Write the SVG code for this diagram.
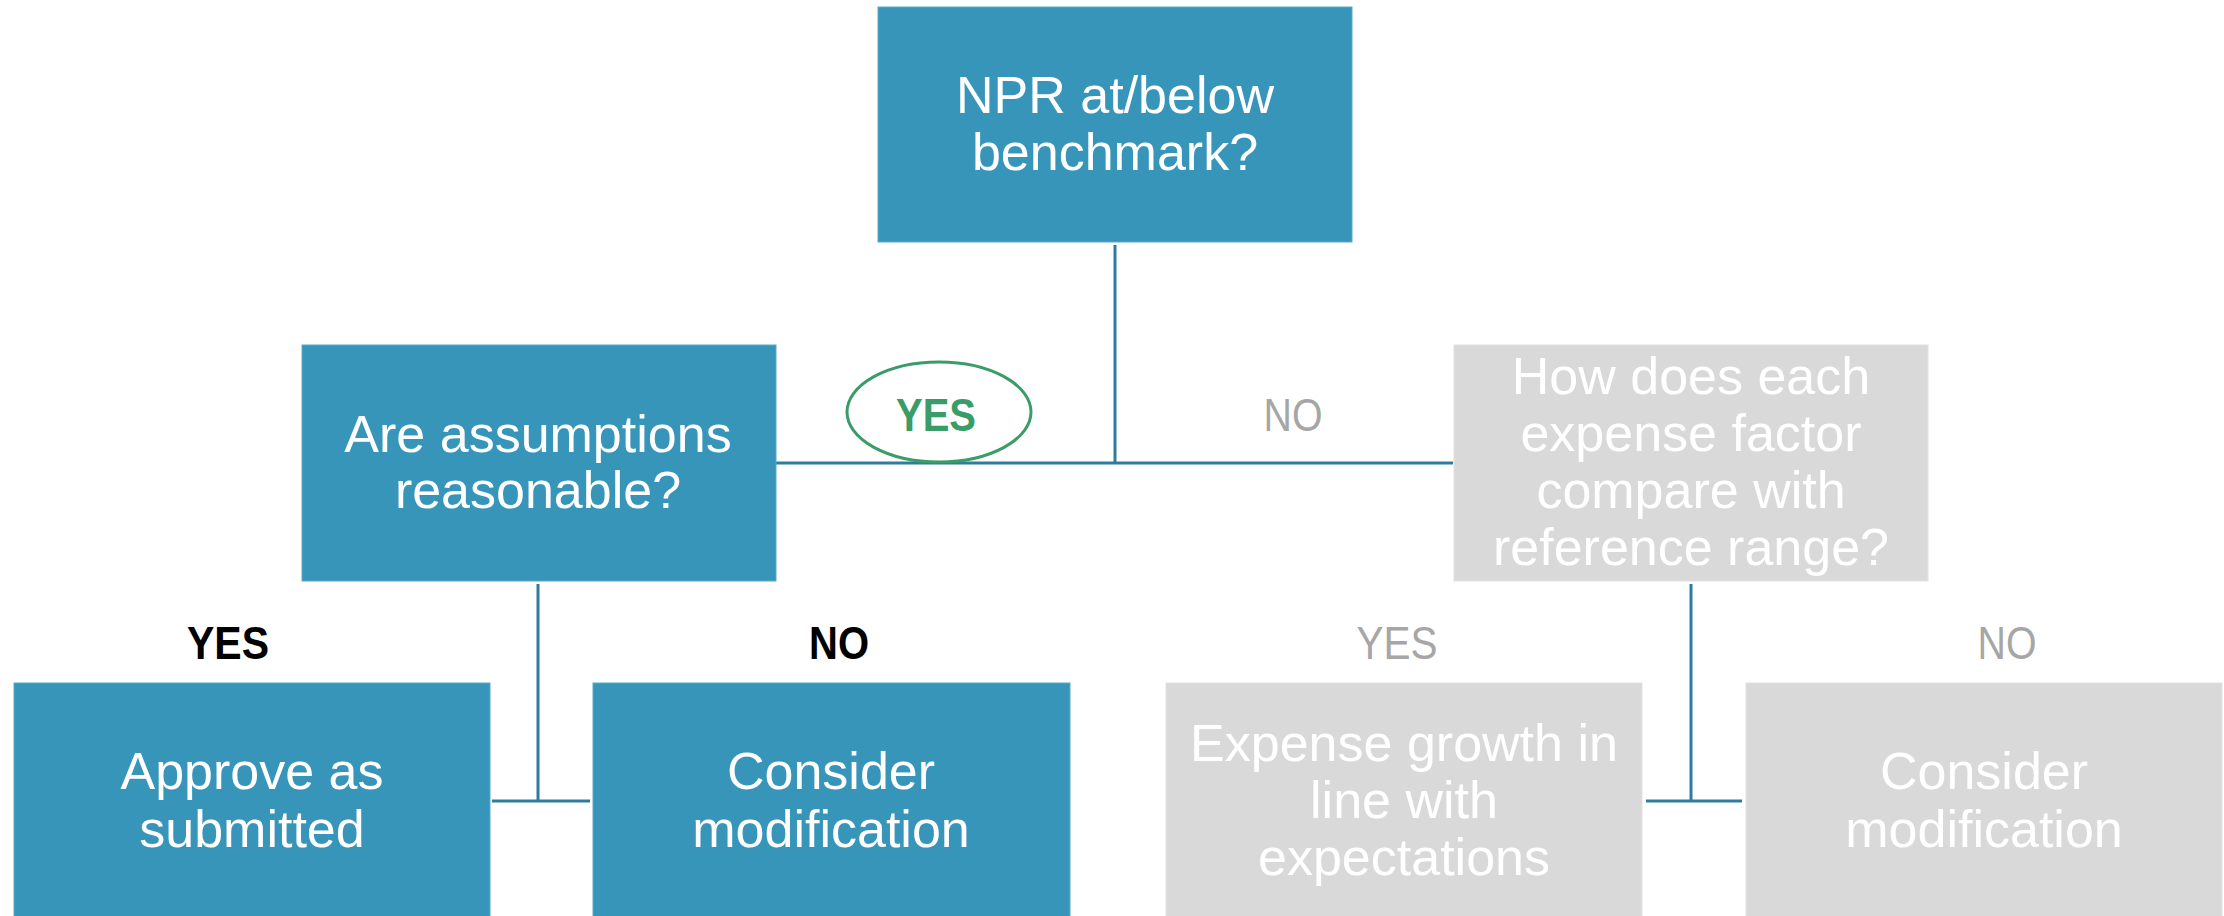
<svg xmlns="http://www.w3.org/2000/svg" width="2224" height="916" viewBox="0 0 2224 916">
<style>
.blue{fill:#3795BA;stroke:#5AA9C8;stroke-width:1}
.grey{fill:#D9D9D9;stroke:#E2E2E2;stroke-width:1}
.t{font-family:"Liberation Sans",Arial,sans-serif;font-size:52px;fill:#FFFFFF;text-anchor:middle}
.lbl{font-family:"Liberation Sans",Arial,sans-serif;font-size:47px;text-anchor:middle}
.conn line{stroke:#2E7C9E;stroke-width:3;fill:none}
</style>
<rect width="2224" height="916" fill="#FFFFFF"/>
<g id="connectors" class="conn">
<line x1="1115" y1="245" x2="1115" y2="464"/>
<line x1="776" y1="463" x2="1453" y2="463"/>
<line x1="538" y1="584" x2="538" y2="801"/>
<line x1="492" y1="801" x2="590" y2="801"/>
<line x1="1691" y1="584" x2="1691" y2="801"/>
<line x1="1646" y1="801" x2="1742" y2="801"/>
</g>
<g id="n-top">
<rect class="blue" x="878" y="7" width="474" height="235"/>
<text class="t" x="1115" y="113">NPR at/below</text>
<text class="t" x="1115" y="170">benchmark?</text>
</g>
<g id="n-assumptions">
<rect class="blue" x="302" y="345" width="474" height="236"/>
<text class="t" x="538" y="452">Are assumptions</text>
<text class="t" x="538" y="508">reasonable?</text>
</g>
<g id="n-expense">
<rect class="grey" x="1454" y="345" width="474" height="236"/>
<text class="t" x="1691" y="394">How does each</text>
<text class="t" x="1691" y="451">expense factor</text>
<text class="t" x="1691" y="508">compare with</text>
<text class="t" x="1691" y="565">reference range?</text>
</g>
<g id="lbl-yes-top">
<ellipse cx="939" cy="412" rx="92" ry="50" fill="none" stroke="#3A9C68" stroke-width="3"/>
<text class="lbl" x="936" y="431" fill="#3A9C68" font-weight="bold" textLength="80" lengthAdjust="spacingAndGlyphs">YES</text>
</g>
<g id="lbl-no-top">
<text class="lbl" x="1293" y="431" fill="#A6A6A6" textLength="59" lengthAdjust="spacingAndGlyphs">NO</text>
</g>
<g id="lbl-yes-left">
<text class="lbl" x="228" y="659" fill="#000000" font-weight="bold" textLength="82" lengthAdjust="spacingAndGlyphs">YES</text>
</g>
<g id="lbl-no-left">
<text class="lbl" x="839" y="659" fill="#000000" font-weight="bold" textLength="60" lengthAdjust="spacingAndGlyphs">NO</text>
</g>
<g id="lbl-yes-right">
<text class="lbl" x="1397" y="659" fill="#A6A6A6" textLength="81" lengthAdjust="spacingAndGlyphs">YES</text>
</g>
<g id="lbl-no-right">
<text class="lbl" x="2007" y="659" fill="#A6A6A6" textLength="59" lengthAdjust="spacingAndGlyphs">NO</text>
</g>
<g id="n-approve">
<rect class="blue" x="14" y="683" width="476" height="240"/>
<text class="t" x="252" y="789">Approve as</text>
<text class="t" x="252" y="847">submitted</text>
</g>
<g id="n-consider-left">
<rect class="blue" x="593" y="683" width="477" height="240"/>
<text class="t" x="831" y="789">Consider</text>
<text class="t" x="831" y="847">modification</text>
</g>
<g id="n-growth">
<rect class="grey" x="1166" y="683" width="476" height="240"/>
<text class="t" x="1404" y="761">Expense growth in</text>
<text class="t" x="1404" y="818">line with</text>
<text class="t" x="1404" y="875">expectations</text>
</g>
<g id="n-consider-right">
<rect class="grey" x="1746" y="683" width="476" height="240"/>
<text class="t" x="1984" y="789">Consider</text>
<text class="t" x="1984" y="847">modification</text>
</g>
</svg>
